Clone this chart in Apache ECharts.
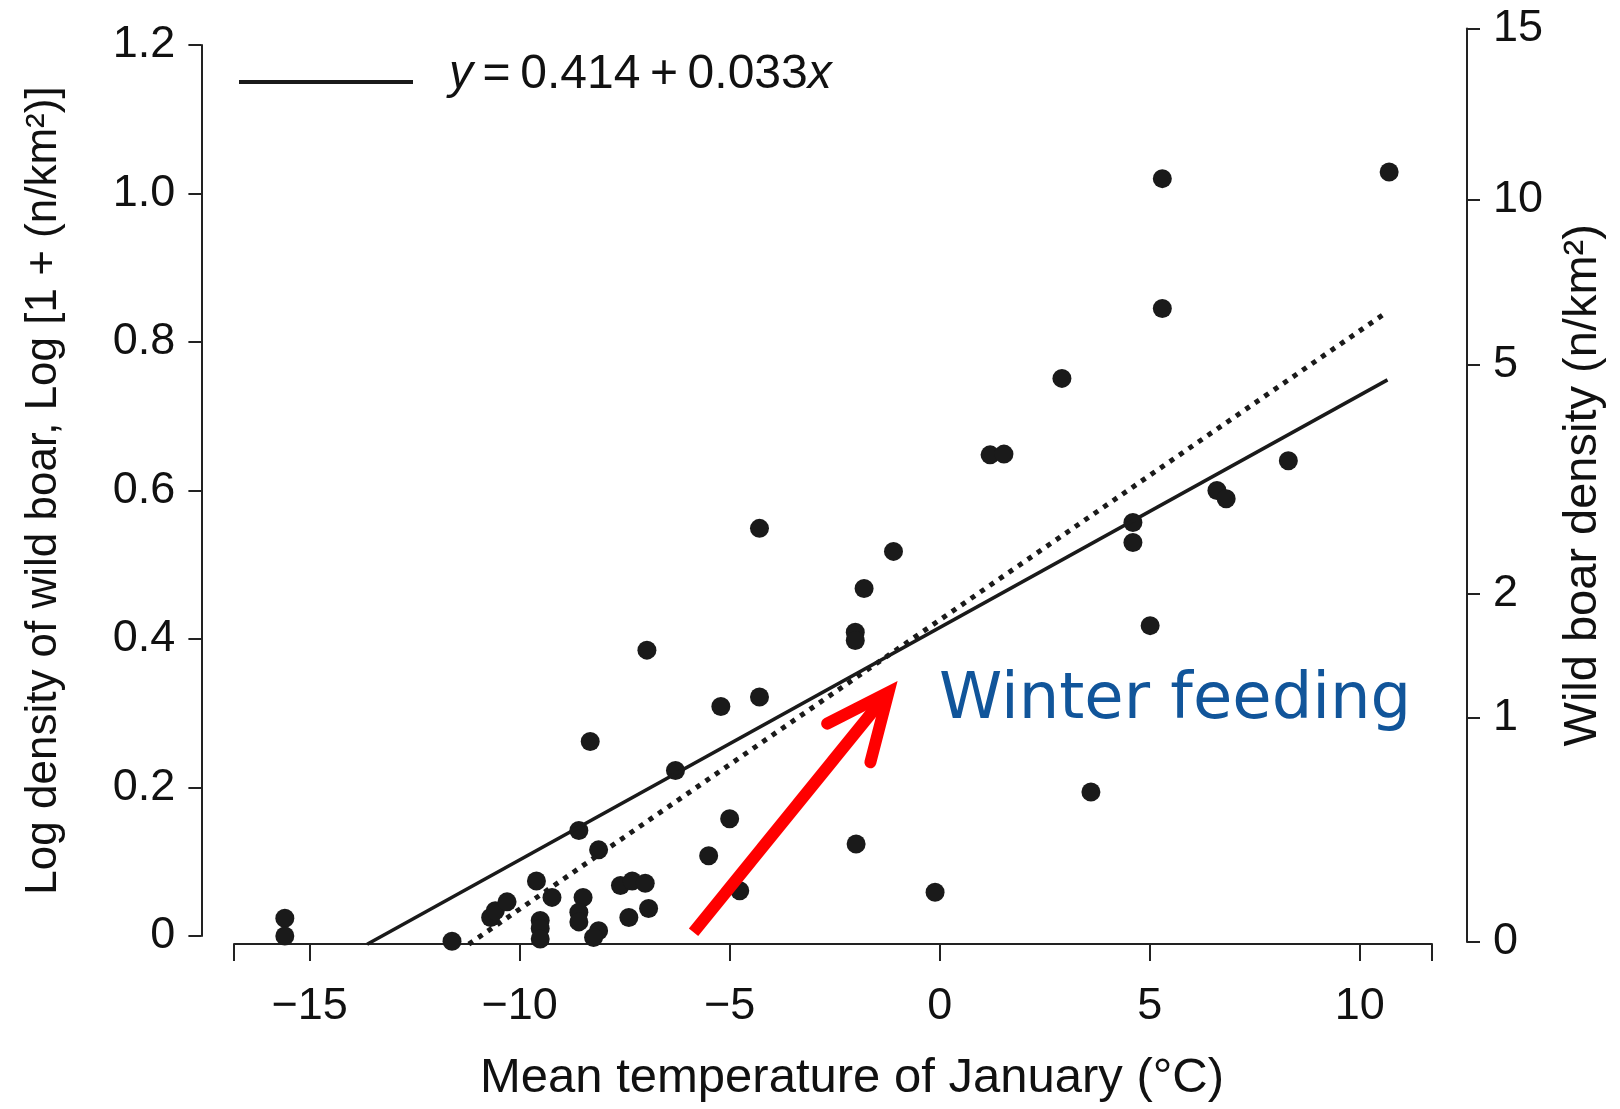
<!DOCTYPE html>
<html>
<head>
    <meta charset="utf-8">
    <title>wild boar density</title>
    <style>
        html, body { margin: 0; padding: 0; background: #fff; }
        #main { width: 1620px; height: 1109px; }
    </style>
</head>
<body>
    <div id="main"></div>
    <script src="https://cdn.jsdelivr.net/npm/echarts@6/dist/echarts.min.js"></script>
    <script>
    // mean January temperature (C) and log density
    var TEMP = [-15.59, -15.59, -11.61, -10.69, -10.58, -10.30, -9.60, -9.23, -9.51, -9.51, -9.51,
        -8.49, -8.59, -8.59, -8.12, -8.24, -7.60, -7.32, -7.01, -7.40, -6.93, -6.97, -8.32, -8.59, -8.12,
        -4.29, -1.10, -1.80, -2.01, -2.01, -5.21, -4.29, -6.29, -5.00, -5.50, -1.99, -4.76, -0.11,
        5.30, 10.70, 5.30, 2.91, 1.20, 1.53, 8.30, 6.60, 6.82, 4.60, 4.60, 5.01, 3.60];
    var LOGDENS = [0.024, 0.000, -0.007, 0.025, 0.034, 0.046, 0.074, 0.052, 0.021, 0.010, -0.004,
        0.052, 0.032, 0.019, 0.007, -0.002, 0.068, 0.074, 0.071, 0.025, 0.037, 0.385, 0.262, 0.142, 0.116,
        0.549, 0.518, 0.468, 0.409, 0.398, 0.309, 0.322, 0.223, 0.158, 0.108, 0.124, 0.061, 0.059,
        1.020, 1.029, 0.845, 0.751, 0.648, 0.649, 0.640, 0.600, 0.589, 0.557, 0.530, 0.418, 0.194];

    // fitted lines (end points as drawn)
    var FIT_SOLID = [[-13.63, -0.011], [10.66, 0.749]];
    var FIT_DOTTED = [[-11.21, -0.011], [10.64, 0.840]];

    // annotation arrow (data coords)
    var ARROW_SHAFT = [[-5.86, 0.005], [-1.40, 0.316]];
    var ARROW_HEAD = [[-2.68, 0.286], [-1.22, 0.328], [-1.65, 0.234]];

    var X_TICKS = [-15, -10, -5, 0, 5, 10];
    var X_MIN = -16.8, X_MAX = 11.72;
    var RIGHT_LABELS = ['0', '1', '2', '5', '10', '15'];
    var RIGHT_POS = [0, 0.246, 0.381, 0.632, 0.813, 1];

    var EQ_NAME = 'y=0.414+0.033x';
    var FONT = "'Liberation Sans', Arial, Helvetica, sans-serif";
    var INK = '#1a1a1a';

    var points = TEMP.map(function (t, i) { return [t, LOGDENS[i]]; });

    var chart = echarts.init(document.getElementById('main'));

    var axisLineStyle = { color: '#222', width: 2 };

    var option = {
        backgroundColor: '#fff',
        animation: false,
        grid: [
            { left: 234, top: 45, width: 1198, height: 891 },
            { left: 1457, top: 28.6, width: 10, height: 913.4 }
        ],
        legend: {
            left: 234,
            top: 46,
            data: [EQ_NAME],
            icon: 'rect',
            itemWidth: 174,
            itemHeight: 4,
            formatter: function () { return '{i|y}{n|\u2009=\u20090.414\u2009+\u20090.033}{i|x}'; },
            textStyle: {
                padding: [0, 0, 14, 31],
                rich: {
                    i: { fontFamily: FONT, fontSize: 48, fontStyle: 'italic', color: '#111' },
                    n: { fontFamily: FONT, fontSize: 48, color: '#111' }
                }
            }
        },
        xAxis: [{
            type: 'value',
            gridIndex: 0,
            min: X_MIN,
            max: X_MAX,
            offset: 8,
            name: 'Mean temperature of January (\u00b0C)',
            nameLocation: 'middle',
            nameGap: 110,
            nameTextStyle: { fontFamily: FONT, fontSize: 49, color: '#111', padding: [0, 0, 0, 38] },
            axisLine: { onZero: false, lineStyle: axisLineStyle },
            axisTick: { length: 17, lineStyle: axisLineStyle, customValues: [X_MIN].concat(X_TICKS, [X_MAX]) },
            axisLabel: {
                customValues: X_TICKS,
                margin: 40,
                fontFamily: FONT,
                fontSize: 45,
                color: '#111',
                formatter: function (v) { return String(v).replace('-', '\u2212'); }
            },
            splitLine: { show: false }
        }, {
            type: 'value',
            gridIndex: 1,
            show: false
        }],
        yAxis: [{
            type: 'value',
            gridIndex: 0,
            min: 0,
            max: 1.2,
            interval: 0.2,
            offset: 32.6,
            name: 'Log density of wild boar, Log [1 + (n/km\u00b2)]',
            nameLocation: 'middle',
            nameGap: 136,
            nameTextStyle: { fontFamily: FONT, fontSize: 44, color: '#111' },
            axisLine: { onZero: false, lineStyle: axisLineStyle },
            axisTick: { length: 13, lineStyle: axisLineStyle },
            axisLabel: {
                margin: 26,
                fontFamily: FONT,
                fontSize: 45,
                color: '#111',
                formatter: function (v) { return v === 0 ? '0' : v.toFixed(1); }
            },
            splitLine: { show: false }
        }, {
            type: 'value',
            gridIndex: 1,
            position: 'right',
            min: 0,
            max: 1,
            name: 'Wild boar density (n/km\u00b2)',
            nameLocation: 'middle',
            nameRotate: 90,
            nameGap: 93,
            nameTextStyle: { fontFamily: FONT, fontSize: 47, color: '#111' },
            axisLine: { onZero: false, lineStyle: axisLineStyle },
            axisTick: { length: 13, lineStyle: axisLineStyle, customValues: RIGHT_POS },
            axisLabel: {
                customValues: RIGHT_POS,
                margin: 26,
                fontFamily: FONT,
                fontSize: 45,
                color: '#111',
                formatter: function (v) {
                    var best = 0;
                    RIGHT_POS.forEach(function (p, i) {
                        if (Math.abs(p - v) < Math.abs(RIGHT_POS[best] - v)) best = i;
                    });
                    return RIGHT_LABELS[best];
                }
            },
            splitLine: { show: false }
        }],
        series: [{
            name: 'dotted',
            type: 'line',
            data: FIT_DOTTED,
            showSymbol: false,
            clip: false,
            lineStyle: { color: INK, width: 5, type: [5, 6.5], cap: 'butt' }
        }, {
            name: EQ_NAME,
            type: 'line',
            data: FIT_SOLID,
            showSymbol: false,
            clip: false,
            color: INK,
            lineStyle: { color: INK, width: 3.5 }
        }, {
            name: 'sites',
            type: 'scatter',
            data: points,
            symbolSize: 19,
            clip: false,
            itemStyle: { color: INK, opacity: 1 }
        }, {
            name: 'arrow',
            type: 'line',
            data: ARROW_SHAFT,
            showSymbol: false,
            clip: false,
            lineStyle: { color: '#ff0000', width: 12, cap: 'butt' },
            z: 5
        }, {
            name: 'arrowhead',
            type: 'line',
            data: ARROW_HEAD,
            showSymbol: false,
            clip: false,
            lineStyle: { color: '#ff0000', width: 12, cap: 'round', join: 'miter' },
            z: 5
        }],
        graphic: [{
            type: 'text',
            left: 939,
            top: 669,
            style: {
                text: 'Winter feeding',
                fontFamily: "'DejaVu Sans', Verdana, sans-serif",
                fontSize: 64,
                fill: '#11559a'
            }
        }]
    };

    chart.setOption(option);
    </script>
</body>
</html>
